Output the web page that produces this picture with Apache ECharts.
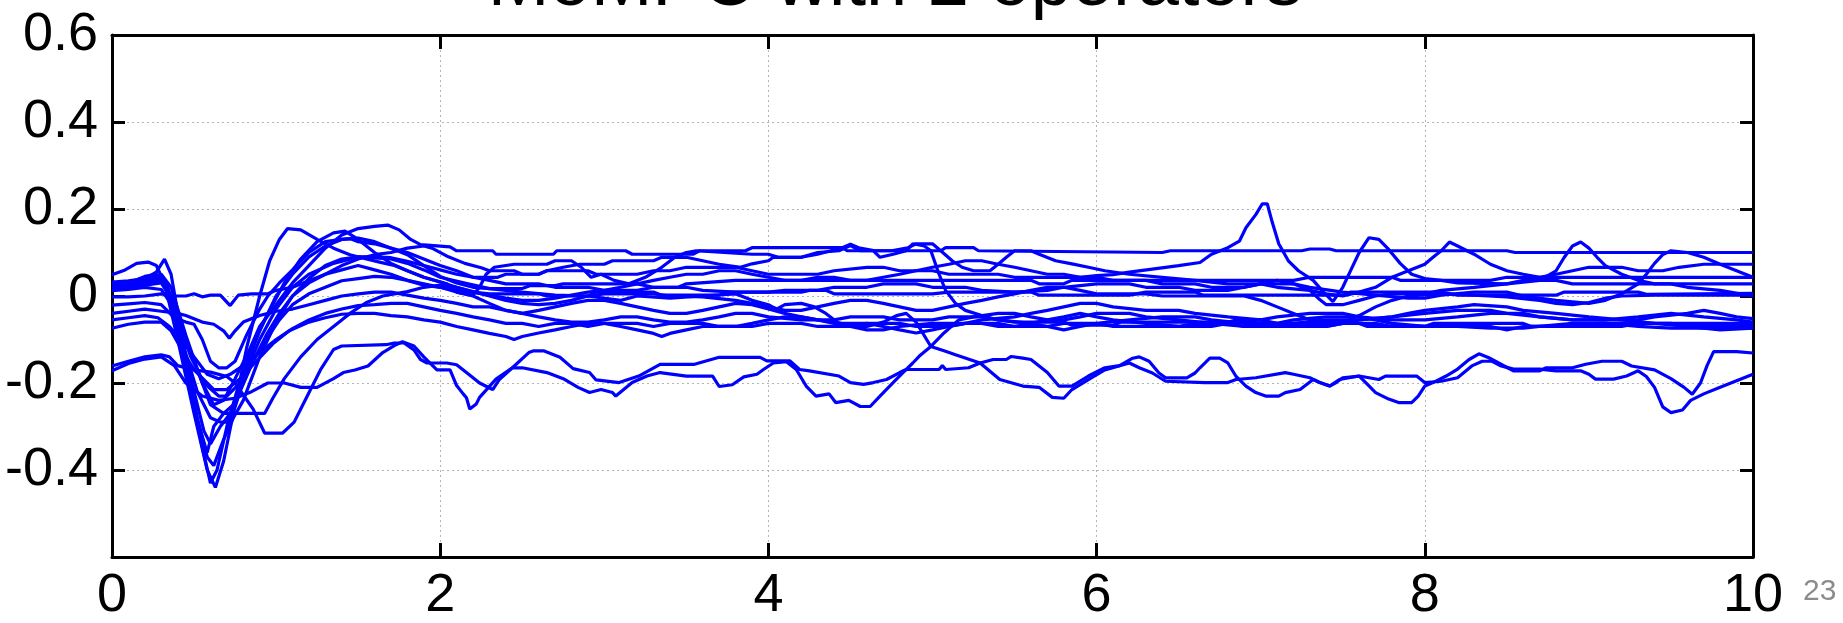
<!DOCTYPE html>
<html>
<head>
<meta charset="utf-8">
<script src="https://cdn.jsdelivr.net/npm/echarts@6/dist/echarts.min.js"></script>
<style>
  html, body { margin: 0; padding: 0; background: #ffffff; }
  #chart { width: 1843px; height: 623px; }
</style>
</head>
<body>
<div id="chart"></div>
<script>
// Axis ranges and ticks
const xRange = [0, 10];
const xStep = 2;
const yRange = [-0.6, 0.6];
const yStep = 0.2;
const titleText = 'MoMPC with 2 operators';
const pageNumber = '23';

// Trajectories: [time, value]
const trajA = [[0,0.022],[0.1,0.025],[0.2,0.035],[0.3,0.05],[0.36,0.02],[0.45,-0.09],[0.55,-0.2],[0.62,-0.25],[0.68,-0.24],[0.75,-0.19],[0.83,-0.13],[0.9,-0.07],[1.0,-0.02],[1.1,0.03],[1.2,0.07],[1.3,0.11],[1.4,0.14],[1.5,0.155],[1.6,0.16],[1.68,0.163],[1.75,0.152],[1.82,0.13],[1.88,0.118],[2.06,0.113],[2.1,0.104],[2.32,0.104],[2.34,0.096],[2.69,0.096],[2.71,0.104],[3.13,0.104],[3.17,0.096],[3.54,0.096],[3.58,0.104],[3.86,0.104],[3.9,0.111],[4.45,0.111],[4.48,0.104],[5.05,0.104],[5.08,0.111],[5.25,0.111],[5.28,0.104],[6.4,0.1],[6.45,0.104],[7.25,0.104],[7.3,0.108],[7.42,0.108],[7.46,0.104],[8.5,0.104],[8.55,0.1],[10,0.1]];

const trajB = [[0,0.049],[0.08,0.06],[0.15,0.075],[0.22,0.078],[0.27,0.07],[0.32,0.03],[0.4,-0.1],[0.5,-0.27],[0.58,-0.4],[0.63,-0.44],[0.68,-0.38],[0.75,-0.25],[0.82,-0.12],[0.9,0.0],[0.96,0.08],[1.02,0.13],[1.07,0.155],[1.15,0.152],[1.25,0.13],[1.35,0.11],[1.45,0.095],[1.55,0.085],[1.63,0.078],[1.72,0.07],[1.8,0.058],[1.9,0.043],[2.0,0.032],[2.1,0.02],[2.2,0.009],[2.3,0.005],[2.6,0.005],[2.65,0.0],[2.9,0.0],[2.95,0.009],[3.3,0.009],[3.35,0.002],[3.7,0.002],[3.75,0.009],[4.2,0.009],[4.25,0.013],[4.35,0.013],[4.4,0.005],[5.0,0.005],[5.1,0.009],[5.6,0.009],[5.65,0.002],[6.2,0.002],[6.3,0.009],[6.6,0.009],[6.65,0.002],[7.5,0.002],[7.55,0.009],[8.1,0.009],[8.2,0.002],[8.8,0.002],[8.85,0.009],[9.3,0.009],[9.35,0.004],[10,0.006]];

const trajC = [[0,0.032],[0.1,0.035],[0.2,0.04],[0.27,0.055],[0.32,0.085],[0.36,0.05],[0.42,-0.08],[0.48,-0.2],[0.54,-0.33],[0.6,-0.43],[0.64,-0.4],[0.7,-0.3],[0.76,-0.22],[0.85,-0.12],[0.95,-0.04],[1.05,0.03],[1.15,0.085],[1.25,0.125],[1.35,0.145],[1.42,0.149],[1.5,0.13],[1.6,0.1],[1.7,0.075],[1.8,0.058],[1.9,0.043],[2.04,0.028],[2.1,0.009],[2.2,0.002],[2.24,0.02],[2.28,0.05],[2.33,0.066],[2.45,0.073],[2.65,0.073],[2.7,0.081],[2.8,0.081],[2.86,0.066],[2.92,0.043],[2.98,0.05],[3.06,0.036],[3.15,0.028],[3.25,0.043],[3.35,0.066],[3.43,0.089],[3.5,0.1],[3.56,0.104],[3.9,0.096],[4.0,0.096],[4.06,0.089],[4.2,0.089],[4.3,0.1],[4.43,0.104],[4.5,0.116],[4.56,0.104],[4.64,0.104],[4.68,0.089],[4.76,0.096],[4.84,0.104],[4.88,0.12],[4.95,0.115],[4.99,0.104],[5.04,0.05],[5.08,0.013],[5.14,-0.017],[5.2,-0.033],[5.3,-0.045],[5.4,-0.055],[5.5,-0.06],[5.8,-0.06],[5.85,-0.067],[6.1,-0.067],[6.15,-0.06],[6.8,-0.06],[6.85,-0.055],[7.0,-0.055],[7.05,-0.063],[7.6,-0.063],[7.65,-0.07],[8.0,-0.07],[8.05,-0.063],[8.6,-0.063],[8.65,-0.07],[9.0,-0.07],[9.05,-0.063],[10,-0.063]];

const trajD = [[0,0.022],[0.12,0.025],[0.22,0.03],[0.3,0.04],[0.36,0.0],[0.45,-0.15],[0.52,-0.28],[0.58,-0.37],[0.62,-0.39],[0.68,-0.33],[0.74,-0.28],[0.8,-0.24],[0.9,-0.14],[1.0,-0.06],[1.1,0.0],[1.2,0.04],[1.3,0.07],[1.4,0.085],[1.5,0.09],[1.6,0.09],[1.7,0.088],[1.8,0.08],[1.9,0.07],[2.0,0.06],[2.1,0.05],[2.2,0.043],[2.35,0.043],[2.4,0.05],[2.6,0.05],[2.65,0.058],[2.9,0.058],[2.95,0.05],[3.2,0.05],[3.3,0.058],[3.4,0.058],[3.5,0.066],[3.8,0.066],[3.9,0.058],[4.0,0.05],[4.3,0.05],[4.4,0.058],[4.6,0.066],[4.7,0.066],[4.8,0.058],[5.0,0.058],[5.1,0.05],[5.4,0.05],[5.5,0.043],[5.9,0.043],[6.0,0.047],[6.1,0.049],[6.2,0.055],[6.42,0.066],[6.5,0.07],[6.63,0.077],[6.7,0.096],[6.8,0.111],[6.87,0.126],[6.91,0.157],[6.97,0.187],[7.01,0.212],[7.04,0.212],[7.07,0.17],[7.11,0.12],[7.17,0.08],[7.23,0.058],[7.32,0.036],[7.38,0.01],[7.44,-0.013],[7.5,0.02],[7.55,0.06],[7.6,0.1],[7.66,0.134],[7.72,0.13],[7.78,0.107],[7.85,0.075],[7.92,0.05],[8.0,0.04],[8.1,0.036],[8.2,0.03],[8.5,0.028],[8.6,0.036],[8.8,0.036],[8.9,0.028],[10,0.028]];

const trajE = [[0,0.026],[0.1,0.03],[0.2,0.035],[0.28,0.04],[0.34,0.02],[0.42,-0.12],[0.5,-0.26],[0.58,-0.36],[0.62,-0.3],[0.68,-0.27],[0.74,-0.25],[0.82,-0.16],[0.9,-0.08],[1.0,0.0],[1.1,0.05],[1.2,0.09],[1.3,0.115],[1.4,0.13],[1.5,0.133],[1.6,0.125],[1.7,0.11],[1.8,0.095],[1.9,0.07],[2.0,0.045],[2.1,0.03],[2.2,0.02],[2.3,0.017],[2.5,0.017],[2.55,0.024],[2.7,0.024],[2.75,0.028],[3.2,0.028],[3.3,0.02],[3.45,0.02],[3.5,0.028],[3.8,0.036],[5.6,0.036],[5.65,0.028],[5.8,0.028],[5.85,0.036],[7.2,0.036],[7.3,0.043],[7.8,0.043],[7.85,0.036],[8.4,0.036],[8.5,0.043],[10,0.043]];

const trajF = [[0,0.022],[0.1,0.02],[0.2,0.025],[0.3,0.03],[0.35,0.0],[0.42,-0.1],[0.5,-0.22],[0.56,-0.31],[0.6,-0.34],[0.66,-0.3],[0.72,-0.27],[0.8,-0.19],[0.9,-0.1],[1.0,-0.03],[1.1,0.02],[1.2,0.05],[1.35,0.075],[1.5,0.09],[1.7,0.085],[1.8,0.075],[1.9,0.06],[2.0,0.043],[2.15,0.03],[2.3,0.017],[2.5,0.009],[2.7,0.002],[2.9,0.0],[3.1,-0.01],[3.2,0.0],[3.4,-0.005],[3.6,0.0],[3.8,0.005],[3.9,-0.01],[4.0,-0.02],[4.05,-0.03],[4.1,-0.02],[4.2,-0.017],[4.28,-0.025],[4.35,-0.04],[4.43,-0.063],[4.5,-0.07],[4.6,-0.07],[4.7,-0.06],[4.78,-0.045],[4.84,-0.04],[4.9,-0.06],[4.99,-0.116],[5.07,-0.126],[5.14,-0.135],[5.29,-0.154],[5.41,-0.192],[5.55,-0.207],[5.65,-0.21],[5.73,-0.233],[5.8,-0.235],[5.85,-0.215],[5.95,-0.192],[6.05,-0.17],[6.2,-0.154],[6.26,-0.165],[6.34,-0.177],[6.42,-0.196],[6.66,-0.199],[6.8,-0.199],[6.85,-0.192],[6.97,-0.188],[7.15,-0.176],[7.2,-0.18],[7.3,-0.188],[7.36,-0.199],[7.42,-0.207],[7.46,-0.199],[7.5,-0.188],[7.6,-0.184],[7.72,-0.192],[7.76,-0.184],[7.95,-0.184],[8.0,-0.199],[8.1,-0.196],[8.2,-0.188],[8.29,-0.16],[8.35,-0.15],[8.41,-0.15],[8.46,-0.16],[8.54,-0.168],[8.7,-0.168],[8.8,-0.172],[8.95,-0.172],[9.0,-0.18],[9.04,-0.191],[9.15,-0.191],[9.23,-0.184],[9.3,-0.172],[9.35,-0.185],[9.4,-0.21],[9.45,-0.255],[9.5,-0.268],[9.57,-0.262],[9.62,-0.24],[9.7,-0.225],[9.8,-0.21],[9.9,-0.195],[10,-0.18]];

const trajG = [[0,0.017],[0.1,0.02],[0.2,0.03],[0.3,0.035],[0.36,0.0],[0.44,-0.12],[0.52,-0.22],[0.6,-0.28],[0.66,-0.29],[0.72,-0.29],[0.78,-0.22],[0.86,-0.15],[0.94,-0.09],[1.02,-0.04],[1.1,0.0],[1.2,0.03],[1.3,0.05],[1.4,0.07],[1.5,0.085],[1.6,0.095],[1.7,0.1],[1.8,0.11],[1.9,0.115],[1.95,0.11],[2.05,0.09],[2.15,0.075],[2.25,0.065],[2.3,0.058],[2.45,0.058],[2.5,0.05],[2.6,0.05],[2.65,0.058],[2.75,0.066],[2.85,0.073],[3.0,0.073],[3.05,0.081],[3.3,0.081],[3.35,0.089],[3.5,0.089],[3.6,0.081],[3.7,0.073],[3.83,0.066],[3.9,0.074],[4.0,0.081],[4.03,0.089],[4.2,0.089],[4.3,0.096],[4.45,0.111],[4.5,0.119],[4.55,0.111],[4.65,0.104],[4.75,0.104],[4.85,0.111],[4.9,0.12],[5.0,0.12],[5.05,0.104],[5.12,0.081],[5.18,0.066],[5.25,0.058],[5.35,0.058],[5.4,0.073],[5.45,0.089],[5.5,0.104],[5.6,0.104],[5.65,0.096],[5.75,0.081],[5.85,0.074],[5.95,0.066],[6.05,0.058],[6.2,0.05],[6.4,0.043],[6.6,0.036],[6.8,0.028],[7.0,0.028],[7.1,0.02],[7.3,0.013],[7.4,0.005],[7.5,0.0],[7.6,0.009],[7.7,0.02],[7.8,0.043],[7.9,0.058],[8.0,0.073],[8.05,0.089],[8.1,0.104],[8.15,0.124],[8.2,0.115],[8.3,0.096],[8.4,0.073],[8.5,0.058],[8.6,0.05],[8.7,0.043],[8.8,0.05],[8.9,0.058],[9.0,0.066],[9.2,0.066],[9.3,0.058],[9.45,0.058],[9.55,0.066],[9.7,0.073],[10,0.073]];

const trajH = [[0,0.012],[0.1,0.015],[0.2,0.02],[0.3,0.015],[0.38,-0.03],[0.45,-0.1],[0.52,-0.17],[0.6,-0.25],[0.68,-0.27],[0.93,-0.27],[0.98,-0.235],[1.05,-0.19],[1.15,-0.14],[1.25,-0.1],[1.35,-0.07],[1.45,-0.04],[1.55,-0.015],[1.65,0.0],[1.8,0.01],[1.9,0.02],[2.0,0.025],[2.1,0.02],[2.2,0.01],[2.3,0.0],[2.4,-0.01],[2.5,-0.017],[2.6,-0.02],[2.7,-0.017],[2.8,-0.01],[2.9,0.0],[3.0,0.005],[3.3,0.005],[3.4,0.0],[3.6,-0.002],[3.8,-0.01],[3.9,-0.017],[4.0,-0.025],[4.1,-0.033],[4.2,-0.033],[4.3,-0.025],[4.4,-0.017],[4.5,-0.01],[4.6,-0.01],[4.7,-0.017],[4.8,-0.025],[4.9,-0.033],[5.0,-0.033],[5.1,-0.025],[5.2,-0.017],[5.3,-0.01],[5.4,-0.002],[5.5,0.005],[5.6,0.013],[5.7,0.02],[5.8,0.02],[5.9,0.013],[6.0,0.005],[6.3,0.005],[6.4,0.0],[6.9,0.0],[7.0,-0.01],[7.1,-0.025],[7.2,-0.04],[7.3,-0.055],[7.4,-0.06],[7.5,-0.06],[7.6,-0.045],[7.7,-0.025],[7.8,-0.01],[7.9,0.0],[8.1,0.005],[8.3,0.002],[8.5,-0.002],[8.7,-0.01],[8.8,-0.017],[8.9,-0.02],[9.0,-0.015],[9.1,-0.005],[9.2,0.0],[9.4,0.002],[9.6,0.002],[10,0.002]];

const trajI = [[0,-0.002],[0.1,-0.002],[0.2,0.0],[0.3,0.005],[0.38,0.0],[0.45,0.0],[0.5,0.005],[0.55,-0.002],[0.6,0.002],[0.66,0.002],[0.72,-0.022],[0.77,0.002],[0.85,0.005],[0.95,0.005],[1.0,0.013],[1.1,0.02],[1.2,0.035],[1.3,0.05],[1.4,0.06],[1.5,0.07],[1.6,0.06],[1.7,0.05],[1.8,0.036],[1.9,0.025],[2.0,0.02],[2.1,0.009],[2.2,0.0],[2.3,-0.017],[2.4,-0.033],[2.5,-0.04],[2.6,-0.048],[2.7,-0.055],[2.8,-0.06],[2.9,-0.06],[3.0,-0.055],[3.1,-0.048],[3.2,-0.048],[3.3,-0.055],[3.4,-0.06],[3.5,-0.06],[3.6,-0.055],[3.7,-0.048],[3.8,-0.04],[3.9,-0.04],[4.0,-0.048],[4.2,-0.055],[4.4,-0.055],[4.5,-0.048],[4.7,-0.048],[4.8,-0.055],[5.0,-0.055],[5.1,-0.048],[5.3,-0.048],[5.4,-0.055],[5.6,-0.063],[5.7,-0.07],[5.8,-0.078],[5.9,-0.07],[6.0,-0.063],[6.2,-0.055],[6.4,-0.048],[6.6,-0.048],[6.7,-0.055],[6.9,-0.063],[7.1,-0.063],[7.2,-0.055],[7.4,-0.048],[7.6,-0.048],[7.8,-0.055],[8.0,-0.055],[8.2,-0.048],[8.4,-0.04],[8.6,-0.04],[8.7,-0.048],[8.9,-0.055],[9.3,-0.055],[9.4,-0.048],[9.6,-0.04],[9.7,-0.033],[9.8,-0.04],[9.9,-0.048],[10,-0.052]];

const trajJ = [[0,-0.021],[0.1,-0.018],[0.2,-0.015],[0.3,-0.02],[0.38,-0.05],[0.45,-0.06],[0.5,-0.065],[0.55,-0.1],[0.6,-0.15],[0.65,-0.165],[0.7,-0.165],[0.75,-0.15],[0.82,-0.09],[0.9,-0.03],[0.95,0.0],[1.02,0.03],[1.1,0.06],[1.15,0.08],[1.2,0.1],[1.3,0.125],[1.4,0.13],[1.45,0.132],[1.5,0.125],[1.6,0.12],[1.7,0.11],[1.8,0.1],[1.9,0.085],[2.0,0.07],[2.1,0.058],[2.2,0.043],[2.3,0.036],[2.4,0.028],[2.6,0.028],[2.7,0.02],[2.9,0.02],[3.0,0.013],[3.2,0.013],[3.3,0.02],[3.5,0.02],[3.6,0.013],[3.8,0.009],[4.0,0.009],[4.1,0.013],[4.3,0.013],[4.4,0.02],[4.6,0.02],[4.7,0.028],[4.9,0.028],[5.0,0.02],[5.2,0.02],[5.3,0.013],[5.5,0.009],[5.7,0.013],[5.8,0.02],[6.0,0.028],[6.2,0.028],[6.3,0.02],[6.5,0.02],[6.6,0.013],[6.8,0.013],[6.9,0.02],[7.0,0.028],[7.2,0.028],[7.3,0.02],[7.5,0.009],[7.7,0.002],[7.9,-0.005],[8.0,-0.005],[8.1,0.002],[8.3,0.009],[8.5,0.009],[8.6,0.0],[8.8,-0.01],[9.0,-0.017],[9.1,-0.01],[9.2,0.005],[9.3,0.028],[9.35,0.05],[9.4,0.075],[9.45,0.095],[9.5,0.104],[9.6,0.1],[9.7,0.089],[9.8,0.073],[9.9,0.058],[10,0.043]];

const trajK = [[0,-0.04],[0.1,-0.035],[0.2,-0.03],[0.3,-0.035],[0.4,-0.04],[0.45,-0.045],[0.55,-0.06],[0.62,-0.065],[0.68,-0.08],[0.715,-0.097],[0.75,-0.08],[0.8,-0.06],[0.9,-0.045],[1.0,-0.035],[1.1,-0.03],[1.2,-0.02],[1.3,-0.01],[1.4,0.0],[1.5,0.005],[1.6,0.009],[1.7,0.009],[1.8,0.002],[1.9,-0.005],[2.0,-0.01],[2.1,-0.017],[2.2,-0.025],[2.3,-0.025],[2.4,-0.033],[2.5,-0.04],[2.6,-0.033],[2.7,-0.025],[2.8,-0.017],[2.9,-0.01],[3.0,-0.01],[3.1,-0.017],[3.2,-0.025],[3.3,-0.033],[3.4,-0.04],[3.5,-0.04],[3.6,-0.033],[3.7,-0.025],[3.8,-0.017],[3.9,-0.02],[4.0,-0.03],[4.1,-0.04],[4.2,-0.048],[4.3,-0.055],[4.45,-0.063],[4.6,-0.063],[4.7,-0.07],[4.8,-0.078],[4.9,-0.085],[5.0,-0.078],[5.1,-0.07],[5.2,-0.063],[5.3,-0.063],[5.4,-0.07],[5.5,-0.07],[5.6,-0.063],[5.7,-0.055],[5.8,-0.048],[5.9,-0.04],[6.0,-0.048],[6.1,-0.055],[6.3,-0.063],[6.5,-0.07],[6.7,-0.07],[6.8,-0.063],[7.0,-0.055],[7.1,-0.048],[7.3,-0.04],[7.5,-0.04],[7.6,-0.048],[7.7,-0.055],[7.8,-0.063],[8.0,-0.07],[8.2,-0.07],[8.4,-0.074],[8.6,-0.074],[8.7,-0.07],[8.9,-0.063],[9.1,-0.063],[9.3,-0.07],[9.5,-0.074],[10,-0.074]];

const trajL = [[0,-0.055],[0.1,-0.05],[0.2,-0.045],[0.28,-0.05],[0.35,-0.07],[0.42,-0.1],[0.5,-0.14],[0.58,-0.18],[0.65,-0.19],[0.72,-0.18],[0.8,-0.16],[0.9,-0.13],[1.0,-0.1],[1.1,-0.075],[1.2,-0.055],[1.3,-0.04],[1.4,-0.03],[1.5,-0.022],[1.6,-0.02],[1.7,-0.017],[1.8,-0.017],[1.9,-0.025],[2.0,-0.033],[2.1,-0.04],[2.2,-0.048],[2.3,-0.055],[2.4,-0.063],[2.5,-0.063],[2.6,-0.07],[2.7,-0.063],[2.8,-0.063],[2.9,-0.07],[3.0,-0.063],[3.2,-0.063],[3.3,-0.07],[3.4,-0.063],[3.6,-0.063],[3.7,-0.07],[3.9,-0.07],[4.0,-0.063],[4.2,-0.063],[4.3,-0.07],[4.5,-0.07],[4.6,-0.063],[4.8,-0.063],[4.9,-0.07],[5.1,-0.07],[5.2,-0.063],[5.4,-0.063],[5.5,-0.07],[5.7,-0.07],[5.8,-0.063],[6.0,-0.063],[6.1,-0.07],[6.5,-0.07],[6.6,-0.063],[6.8,-0.063],[6.9,-0.07],[7.4,-0.07],[7.5,-0.063],[7.7,-0.063],[7.8,-0.07],[8.4,-0.07],[8.5,-0.078],[8.6,-0.07],[9.2,-0.07],[9.3,-0.063],[9.5,-0.063],[9.6,-0.07],[10,-0.07]];

const trajM = [[0,-0.161],[0.1,-0.15],[0.2,-0.14],[0.3,-0.135],[0.35,-0.14],[0.4,-0.16],[0.5,-0.17],[0.6,-0.175],[0.7,-0.185],[0.75,-0.2],[0.86,-0.26],[0.93,-0.315],[1.04,-0.315],[1.11,-0.29],[1.19,-0.23],[1.27,-0.17],[1.35,-0.123],[1.4,-0.115],[1.67,-0.112],[1.72,-0.108],[1.78,-0.108],[1.84,-0.124],[1.88,-0.146],[1.92,-0.154],[2.04,-0.154],[2.1,-0.158],[2.16,-0.176],[2.24,-0.2],[2.32,-0.215],[2.36,-0.192],[2.44,-0.165],[2.5,-0.165],[2.65,-0.176],[2.75,-0.19],[2.84,-0.21],[2.91,-0.222],[2.98,-0.215],[3.05,-0.222],[3.07,-0.23],[3.17,-0.199],[3.26,-0.184],[3.34,-0.176],[3.5,-0.184],[3.66,-0.184],[3.7,-0.208],[3.78,-0.204],[3.85,-0.186],[3.93,-0.18],[3.97,-0.169],[4.03,-0.154],[4.11,-0.151],[4.17,-0.169],[4.23,-0.207],[4.29,-0.23],[4.37,-0.225],[4.41,-0.245],[4.49,-0.24],[4.56,-0.254],[4.62,-0.254],[4.68,-0.23],[4.76,-0.199],[4.82,-0.176],[4.88,-0.154],[4.92,-0.138],[4.99,-0.116],[5.07,-0.085],[5.16,-0.055],[5.25,-0.048],[5.4,-0.04],[5.5,-0.04],[5.6,-0.048],[5.7,-0.055],[5.8,-0.055],[5.9,-0.048],[6.0,-0.04],[6.2,-0.04],[6.3,-0.048],[6.5,-0.055],[6.7,-0.063],[6.9,-0.07],[7.1,-0.07],[7.2,-0.063],[7.4,-0.055],[7.6,-0.055],[7.8,-0.048],[8.0,-0.04],[8.2,-0.033],[8.4,-0.033],[8.5,-0.04],[8.7,-0.048],[8.9,-0.055],[9.1,-0.055],[9.3,-0.048],[9.5,-0.04],[9.7,-0.048],[9.9,-0.055],[10,-0.06]];

const trajN = [[0,-0.172],[0.1,-0.155],[0.2,-0.145],[0.3,-0.14],[0.38,-0.16],[0.45,-0.2],[0.55,-0.23],[0.65,-0.24],[0.75,-0.235],[0.85,-0.22],[0.95,-0.2],[1.05,-0.2],[1.15,-0.21],[1.25,-0.21],[1.35,-0.19],[1.41,-0.176],[1.48,-0.17],[1.56,-0.161],[1.65,-0.13],[1.73,-0.112],[1.77,-0.105],[1.84,-0.115],[1.9,-0.14],[1.98,-0.17],[2.06,-0.17],[2.1,-0.206],[2.14,-0.225],[2.16,-0.234],[2.18,-0.26],[2.22,-0.248],[2.24,-0.233],[2.34,-0.191],[2.44,-0.165],[2.54,-0.13],[2.57,-0.126],[2.63,-0.126],[2.73,-0.141],[2.81,-0.167],[2.91,-0.176],[2.95,-0.193],[3.09,-0.199],[3.21,-0.184],[3.34,-0.157],[3.55,-0.157],[3.7,-0.141],[3.95,-0.141],[3.99,-0.149],[4.13,-0.149],[4.19,-0.169],[4.25,-0.172],[4.43,-0.184],[4.5,-0.199],[4.58,-0.203],[4.64,-0.199],[4.72,-0.192],[4.8,-0.176],[4.84,-0.169],[5.04,-0.169],[5.06,-0.16],[5.08,-0.169],[5.22,-0.165],[5.29,-0.154],[5.37,-0.146],[5.45,-0.146],[5.48,-0.139],[5.55,-0.143],[5.6,-0.146],[5.7,-0.176],[5.77,-0.207],[5.85,-0.207],[5.95,-0.184],[6.05,-0.165],[6.14,-0.16],[6.22,-0.143],[6.26,-0.14],[6.32,-0.15],[6.38,-0.177],[6.42,-0.188],[6.55,-0.188],[6.6,-0.177],[6.63,-0.165],[6.69,-0.143],[6.75,-0.143],[6.8,-0.154],[6.85,-0.185],[6.91,-0.207],[6.97,-0.222],[7.03,-0.23],[7.11,-0.23],[7.15,-0.222],[7.24,-0.215],[7.32,-0.192],[7.36,-0.199],[7.42,-0.207],[7.48,-0.192],[7.6,-0.184],[7.64,-0.199],[7.7,-0.222],[7.78,-0.237],[7.84,-0.245],[7.92,-0.245],[7.96,-0.23],[8.0,-0.207],[8.05,-0.199],[8.13,-0.184],[8.2,-0.168],[8.27,-0.146],[8.33,-0.133],[8.39,-0.142],[8.45,-0.154],[8.54,-0.172],[8.7,-0.172],[8.74,-0.165],[8.9,-0.165],[8.98,-0.157],[9.08,-0.15],[9.2,-0.15],[9.26,-0.161],[9.4,-0.17],[9.5,-0.19],[9.58,-0.21],[9.63,-0.226],[9.68,-0.2],[9.72,-0.16],[9.76,-0.128],[9.9,-0.128],[10,-0.131]];

const trajO = [[0,-0.074],[0.1,-0.065],[0.2,-0.06],[0.3,-0.06],[0.36,-0.08],[0.42,-0.12],[0.5,-0.17],[0.58,-0.2],[0.62,-0.215],[0.7,-0.215],[0.78,-0.19],[0.88,-0.15],[0.98,-0.11],[1.08,-0.08],[1.2,-0.06],[1.3,-0.05],[1.4,-0.042],[1.5,-0.04],[1.6,-0.04],[1.7,-0.045],[1.8,-0.048],[1.9,-0.055],[2.0,-0.06],[2.1,-0.07],[2.2,-0.078],[2.3,-0.086],[2.4,-0.093],[2.45,-0.1],[2.5,-0.093],[2.6,-0.085],[2.7,-0.078],[2.8,-0.07],[2.9,-0.063],[3.0,-0.063],[3.1,-0.07],[3.2,-0.078],[3.3,-0.086],[3.35,-0.093],[3.4,-0.086],[3.5,-0.078],[3.6,-0.07],[3.8,-0.07],[3.9,-0.063],[4.0,-0.055],[4.1,-0.048],[4.2,-0.048],[4.3,-0.055],[4.4,-0.063],[4.5,-0.07],[4.6,-0.078],[4.7,-0.078],[4.8,-0.07],[5.0,-0.063],[5.2,-0.063],[5.3,-0.055],[5.5,-0.048],[5.6,-0.04],[5.7,-0.033],[5.8,-0.025],[5.9,-0.017],[6.0,-0.017],[6.1,-0.025],[6.3,-0.033],[6.5,-0.033],[6.6,-0.04],[6.8,-0.048],[7.0,-0.055],[7.1,-0.063],[7.2,-0.07],[7.4,-0.07],[7.5,-0.063],[7.6,-0.055],[7.8,-0.048],[7.9,-0.04],[8.0,-0.033],[8.2,-0.025],[8.3,-0.02],[8.5,-0.025],[8.6,-0.033],[8.8,-0.04],[9.0,-0.048],[9.2,-0.055],[9.4,-0.063],[9.6,-0.07],[9.8,-0.078],[10,-0.074]];

const trajP = [[0,0.026],[0.1,0.03],[0.2,0.045],[0.27,0.05],[0.33,0.03],[0.4,-0.05],[0.48,-0.14],[0.56,-0.2],[0.65,-0.23],[0.7,-0.23],[0.78,-0.2],[0.86,-0.15],[0.94,-0.1],[1.02,-0.055],[1.1,-0.02],[1.2,0.005],[1.3,0.02],[1.4,0.035],[1.5,0.04],[1.6,0.045],[1.7,0.043],[1.8,0.036],[1.9,0.028],[2.0,0.02],[2.1,0.013],[2.2,0.009],[2.3,0.002],[2.4,-0.005],[2.5,-0.01],[2.6,-0.01],[2.7,-0.005],[2.8,0.002],[2.9,0.009],[3.0,0.013],[3.1,0.02],[3.2,0.028],[3.3,0.036],[3.4,0.043],[3.5,0.05],[3.6,0.05],[3.7,0.058],[3.8,0.058],[3.9,0.05],[4.0,0.043],[4.1,0.036],[4.2,0.036],[4.3,0.043],[4.4,0.043],[4.5,0.036],[4.6,0.036],[4.7,0.043],[4.8,0.05],[4.9,0.058],[5.0,0.066],[5.1,0.073],[5.2,0.081],[5.3,0.081],[5.4,0.073],[5.5,0.066],[5.6,0.058],[5.7,0.05],[5.8,0.05],[5.9,0.043],[6.0,0.043],[6.1,0.036],[6.3,0.036],[6.4,0.028],[6.6,0.028],[6.7,0.02],[6.9,0.02],[7.0,0.028],[7.1,0.036],[7.2,0.028],[7.3,0.013],[7.35,-0.005],[7.4,-0.02],[7.5,-0.02],[7.6,-0.01],[7.7,0.0],[7.8,0.005],[8.0,0.005],[8.1,0.013],[8.3,0.02],[8.5,0.028],[8.7,0.036],[8.8,0.058],[8.85,0.089],[8.9,0.115],[8.95,0.124],[9.0,0.11],[9.05,0.089],[9.1,0.07],[9.2,0.05],[9.3,0.036],[9.4,0.028],[9.5,0.028],[9.6,0.02],[9.8,0.013],[10,0.0]];

const trajectories = [trajA, trajB, trajC, trajD, trajE, trajF, trajG, trajH,
                      trajI, trajJ, trajK, trajL, trajM, trajN, trajO, trajP];

const chart = echarts.init(document.getElementById('chart'), null, { renderer: 'canvas' });

const labelFont = 'Liberation Sans';
const axisBlack = '#000000';
const gridDots = { color: '#b4b4b4', width: 1, type: [2, 3] };

function yFormat(v) {
  const r = Math.round(v * 10) / 10;
  if (r <= -0.6) return '';
  if (r === 0) return '0';
  return r.toFixed(1);
}

const baseX = {
  type: 'value', min: xRange[0], max: xRange[1], interval: xStep,
  axisLine: { show: true, onZero: false, lineStyle: { color: axisBlack, width: 3 } },
  axisTick: { show: true, inside: true, length: 14, lineStyle: { color: axisBlack, width: 3 } }
};
const baseY = {
  type: 'value', min: yRange[0], max: yRange[1], interval: yStep,
  axisLine: { show: true, onZero: false, lineStyle: { color: axisBlack, width: 3 } },
  axisTick: { show: true, inside: true, length: 13, lineStyle: { color: axisBlack, width: 3 } }
};

chart.setOption({
  animation: false,
  backgroundColor: '#ffffff',
  grid: { left: 112, right: 90, top: 35, bottom: 60, containLabel: false },
  xAxis: [
    Object.assign({}, baseX, {
      position: 'bottom',
      axisLabel: { show: true, fontFamily: labelFont, fontSize: 54, color: axisBlack, margin: 12,
                   formatter: v => String(Math.round(v)) },
      splitLine: { show: true, lineStyle: gridDots }
    }),
    Object.assign({}, baseX, {
      position: 'top',
      axisLabel: { show: false },
      splitLine: { show: false }
    })
  ],
  yAxis: [
    Object.assign({}, baseY, {
      position: 'left',
      axisLabel: { show: true, fontFamily: labelFont, fontSize: 54, color: axisBlack, margin: 14,
                   padding: [0, 0, 13, 0], formatter: yFormat },
      splitLine: { show: true, lineStyle: gridDots }
    }),
    Object.assign({}, baseY, {
      position: 'right',
      axisLabel: { show: false },
      splitLine: { show: false }
    })
  ],
  series: trajectories.map((d, i) => ({
    name: 'run' + (i + 1),
    type: 'line',
    data: d,
    xAxisIndex: 0,
    yAxisIndex: 0,
    showSymbol: false,
    symbol: 'none',
    silent: true,
    clip: true,
    lineStyle: { color: '#0000ff', width: 3.2 },
    z: 3
  })),
  graphic: [
    {
      type: 'text', silent: true, z: 10,
      style: { text: titleText, x: 895, y: -15, fill: '#000000',
               font: '74px "Liberation Sans"', textAlign: 'center', verticalAlign: 'middle' }
    },
    {
      type: 'text', silent: true, z: 10,
      style: { text: pageNumber, x: 1803, y: 592, fill: '#8c8c8c',
               font: '30px "Liberation Sans"', textAlign: 'left', verticalAlign: 'middle' }
    }
  ]
});
</script>
</body>
</html>
